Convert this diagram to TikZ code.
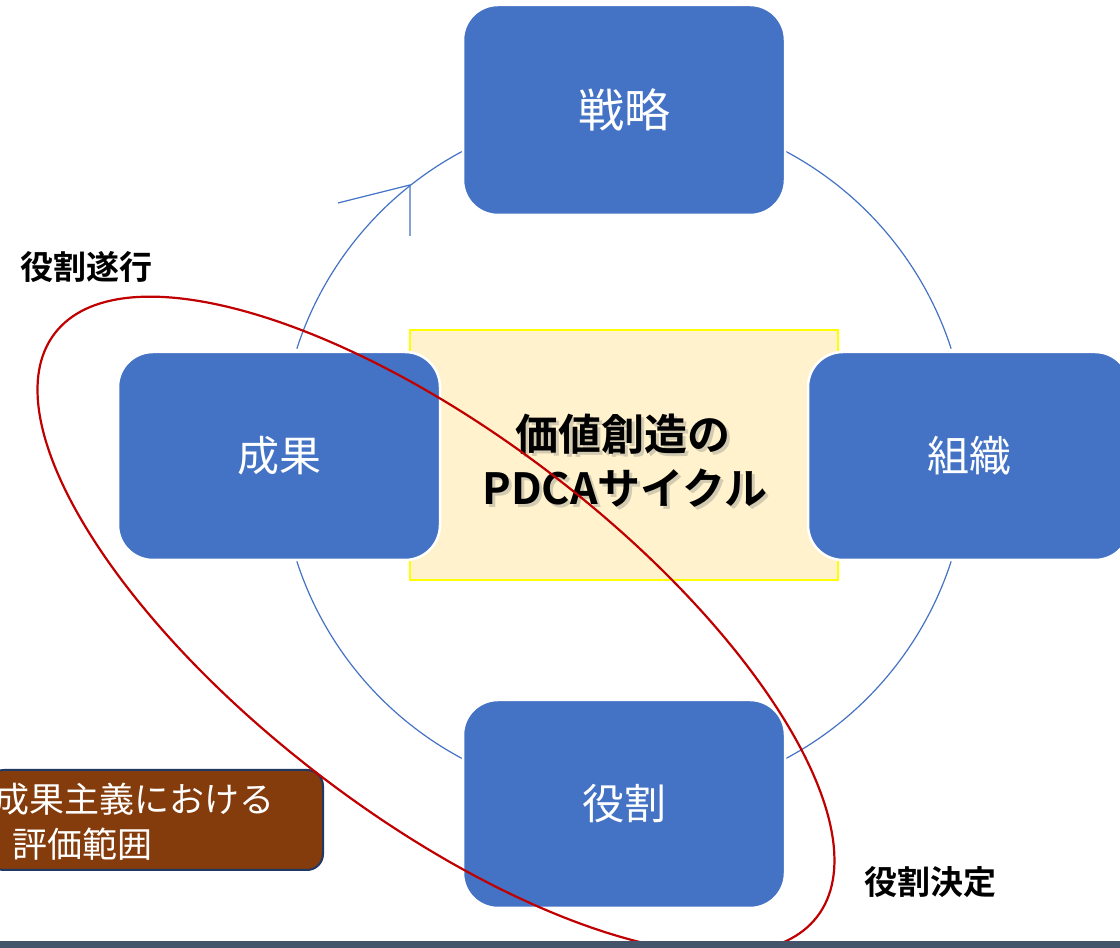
\documentclass[tikz,border=0pt]{standalone}
\usepackage{fontspec}
\newfontfamily\jp{Noto Sans CJK JP}[BoldFont={Noto Sans CJK JP Bold}]
\definecolor{boxblue}{HTML}{4472C4}
\definecolor{centerfill}{HTML}{FFF2CC}
\definecolor{centeredge}{HTML}{FFFF00}
\definecolor{ringred}{HTML}{C00000}
\definecolor{brownfill}{HTML}{843C0C}
\definecolor{brownedge}{HTML}{1F3864}
\definecolor{barcol}{HTML}{44546A}
\tikzset{
  bluebox/.style={draw=white, line width=2.5pt, fill=boxblue, rounded corners=35pt,
    minimum width=322pt, minimum height=208pt, inner sep=0pt, text=white,
    font=\jp\fontsize{42}{50}\selectfont},
  cyc/.style={draw=boxblue, line width=1.2pt},
  sidelabel/.style={inner sep=0pt, font=\jp\bfseries\fontsize{33}{40}\selectfont},
  centertext/.style={inner sep=0pt, font=\jp\bfseries\fontsize{43}{50}\selectfont},
  browntext/.style={anchor=west, inner sep=0pt, text=white, font=\jp\fontsize{35}{42}\selectfont},
}
\begin{document}
\begin{tikzpicture}[x=1pt,y=1pt]
\useasboundingbox (0,0) rectangle (1120,948);
\clip (0,0) rectangle (1120,948);
\fill[white] (0,0) rectangle (1120,948);
% cycle ring
\coordinate (c) at (624,493);
\draw[cyc] ([shift={(118:344)}]c) arc[start angle=118, end angle=162, radius=344];
\draw[cyc] ([shift={(18:344)}]c) arc[start angle=18, end angle=62, radius=344];
\draw[cyc] ([shift={(-18:344)}]c) arc[start angle=-18, end angle=-62, radius=344];
\draw[cyc] ([shift={(-118:344)}]c) arc[start angle=-118, end angle=-162, radius=344];
\coordinate (tip) at (410,763);
\coordinate (barbA) at (338,745);
\coordinate (barbB) at (410,712);
\draw[cyc] (barbA) -- (tip) -- (barbB);
% centre box
\node[draw=centeredge, line width=2.5pt, fill=centerfill, minimum width=428pt, minimum height=250pt, inner sep=0pt] (core) at (624,493) {};
\node[centertext, text=black!50, opacity=0.35] at (626,511) {価値創造の};
\node[centertext, text=black!50, opacity=0.35] at (628,457) {PDCAサイクル};
\node[centertext] (t1) at (623,514) {価値創造の};
\node[centertext] (t2) at (625,460) {PDCAサイクル};
% blue boxes
\node[bluebox, minimum height=210pt, font=\jp\fontsize{46}{54}\selectfont] (senryaku) at (624,838) {戦略};
\node[bluebox] (seika) at (279,492) {成果};
\node[bluebox] (soshiki) at (969,492) {組織};
\node[bluebox] (yakuwari) at (624,144) {役割};
% brown box
\node[draw=brownedge, line width=2pt, fill=brownfill, rounded corners=16pt, minimum width=335pt, minimum height=100pt, inner sep=0pt] (brown) at (155.5,128) {};
\node[browntext] (b1) at (-6,149) {成果主義における};
\node[browntext] (b2) at (12,104) {評価範囲};
% side labels
\node[sidelabel] (suikou) at (86,681) {役割遂行};
\node[sidelabel] (kettei) at (930,66) {役割決定};
% red ellipse
\coordinate (ec) at (436,323);
\draw[ringred, line width=2.2pt, rotate around={-37.4:(ec)}] (ec) ellipse[x radius=480, y radius=190];
% bottom bar
\fill[barcol] (0,0) rectangle (1120,7);
\end{tikzpicture}
\end{document}
